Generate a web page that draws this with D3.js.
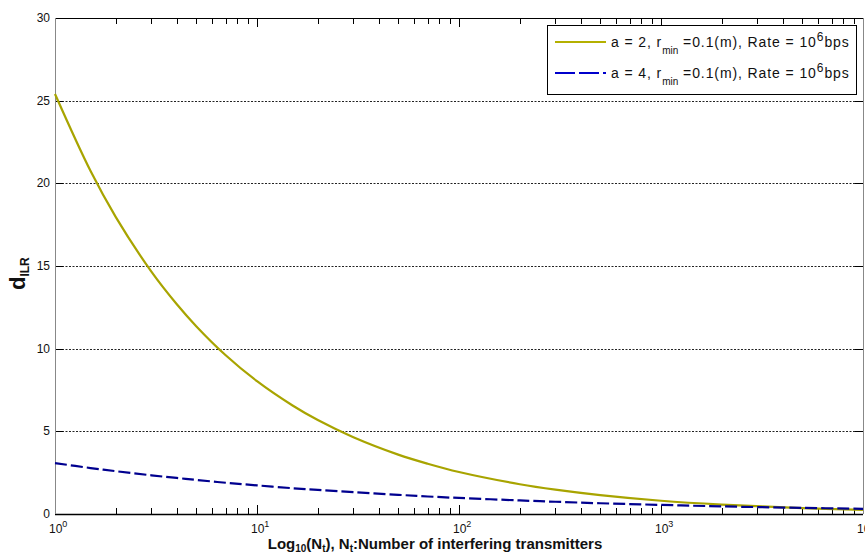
<!DOCTYPE html>
<html lang="en">
<head>
  <meta charset="UTF-8" />
  <title>d_ILR vs number of interfering transmitters</title>
  <script src="https://d3js.org/d3.v7.min.js"></script>
  <style>
    body {
      background-color: white;
      margin: 0;
      font-family: "Liberation Sans", Arial, sans-serif;
    }

    svg {
      display: block;
    }

    .grid line {
      stroke: #222;
      stroke-width: 1px;
      stroke-dasharray: 2,1.5;
    }

    .tick-label {
      font-size: 12px;
      fill: #111;
    }
  </style>
</head>
<body>
  <svg></svg>

  <script>
    // values
    const nt = [1, 1.5, 2, 3, 4, 5, 7, 10, 15, 20, 30, 50, 70, 100, 200, 300, 500, 1000, 2000, 5000, 10000];
    const dA2 = [25.4, 20.74, 17.96, 14.66, 12.7, 11.36, 9.6, 8.03, 6.56, 5.68, 4.64, 3.59, 3.04, 2.54, 1.8, 1.47, 1.14, 0.8, 0.57, 0.36, 0.25];
    const dA4 = [3.08, 2.78, 2.59, 2.34, 2.18, 2.06, 1.89, 1.73, 1.56, 1.46, 1.32, 1.16, 1.06, 0.97, 0.82, 0.74, 0.65, 0.55, 0.46, 0.37, 0.31];
    const yTicks = [0, 5, 10, 15, 20, 25, 30];
    const xDecades = [0, 1, 2, 3, 4];

    const width = 865;
    const height = 555;

    const svg = d3.select("svg")
      .attr("width", width)
      .attr("height", height);

    const x = d3.scaleLog().domain([1, 10000]).range([55, 863]);
    const y = d3.scaleLinear().domain([0, 30]).range([514, 18]);

    // horizontal dotted grid
    svg.append("g")
      .attr("class", "grid")
      .selectAll("line")
      .data(yTicks.filter(d => d > 0 && d < 30))
      .enter().append("line")
      .attr("x1", x(1)).attr("x2", x(10000))
      .attr("y1", d => Math.round(y(d)) + 0.5)
      .attr("y2", d => Math.round(y(d)) + 0.5);

    // minor + major x ticks, bottom (inward) and top (inward)
    const xTickVals = [];
    for (let e = 0; e < 4; e++) {
      for (let m = 1; m < 10; m++) xTickVals.push(m * Math.pow(10, e));
    }
    xTickVals.push(10000);

    const ticks = svg.append("g").attr("stroke", "#000").attr("stroke-width", 1);
    ticks.selectAll(".xb")
      .data(xTickVals)
      .enter().append("line")
      .attr("x1", d => Math.round(x(d)) + 0.5)
      .attr("x2", d => Math.round(x(d)) + 0.5)
      .attr("y1", y(0))
      .attr("y2", d => y(0) - (Number.isInteger(Math.log10(d)) ? 9 : 6));
    ticks.selectAll(".xt")
      .data(xTickVals)
      .enter().append("line")
      .attr("x1", d => Math.round(x(d)) + 0.5)
      .attr("x2", d => Math.round(x(d)) + 0.5)
      .attr("y1", y(30))
      .attr("y2", d => y(30) + (Number.isInteger(Math.log10(d)) ? 9 : 6));
    ticks.selectAll(".yl")
      .data(yTicks)
      .enter().append("line")
      .attr("x1", x(1))
      .attr("x2", x(1) + 8)
      .attr("y1", d => Math.round(y(d)) + 0.5)
      .attr("y2", d => Math.round(y(d)) + 0.5);
    ticks.selectAll(".yr")
      .data(yTicks)
      .enter().append("line")
      .attr("x1", x(10000))
      .attr("x2", x(10000) - 8)
      .attr("y1", d => Math.round(y(d)) + 0.5)
      .attr("y2", d => Math.round(y(d)) + 0.5);

    // frame
    svg.append("line")
      .attr("x1", x(1)).attr("x2", x(10000))
      .attr("y1", y(30) + 0.5).attr("y2", y(30) + 0.5)
      .attr("stroke", "#000");
    svg.append("line")
      .attr("x1", x(1)).attr("x2", x(10000))
      .attr("y1", y(0) + 0.5).attr("y2", y(0) + 0.5)
      .attr("stroke", "#000").attr("stroke-width", 1.5);
    svg.append("line")
      .attr("x1", x(1) + 0.5).attr("x2", x(1) + 0.5)
      .attr("y1", y(30)).attr("y2", y(0))
      .attr("stroke", "#888");
    svg.append("line")
      .attr("x1", x(10000) + 0.5).attr("x2", x(10000) + 0.5)
      .attr("y1", y(30)).attr("y2", y(0))
      .attr("stroke", "#888");

    // y tick labels
    svg.append("g")
      .selectAll("text")
      .data(yTicks)
      .enter().append("text")
      .attr("class", "tick-label")
      .attr("x", 50)
      .attr("y", d => y(d) + 4)
      .attr("text-anchor", "end")
      .text(d => d);

    // x tick labels 10^k (the last one runs off the right edge, as in the original)
    const xl = svg.append("g")
      .selectAll("text")
      .data(xDecades)
      .enter().append("text")
      .attr("class", "tick-label")
      .attr("x", d => x(Math.pow(10, d)) - 6)
      .attr("y", 533);
    xl.append("tspan").text("10");
    xl.append("tspan").attr("dy", -6).attr("font-size", 9).text(d => d);

    // curves
    const line = d3.line()
      .x(d => x(d[0]))
      .y(d => y(d[1]))
      .curve(d3.curveCatmullRom);

    svg.append("path")
      .datum(nt.map((n, i) => [n, dA2[i]]))
      .attr("fill", "none")
      .attr("stroke", "#a8a400")
      .attr("stroke-width", 2.2)
      .attr("d", line);

    svg.append("path")
      .datum(nt.map((n, i) => [n, dA4[i]]))
      .attr("fill", "none")
      .attr("stroke", "#00008f")
      .attr("stroke-width", 2.2)
      .attr("stroke-dasharray", "12,4")
      .attr("d", line);

    // legend
    const leg = svg.append("g");
    leg.append("rect")
      .attr("x", 547.5).attr("y", 25.5)
      .attr("width", 309).attr("height", 69)
      .attr("fill", "#fff").attr("stroke", "#000");

    const legItems = [
      { a: 2, color: "#b4b000", dash: null, ly: 42 },
      { a: 4, color: "#0000cc", dash: "20,4", ly: 73 }
    ];
    legItems.forEach(it => {
      leg.append("line")
        .attr("x1", 555).attr("x2", 606)
        .attr("y1", it.ly).attr("y2", it.ly)
        .attr("stroke", it.color)
        .attr("stroke-width", 2.2)
        .attr("stroke-dasharray", it.dash);
      const t = leg.append("text")
        .attr("x", 611).attr("y", it.ly + 5)
        .attr("font-size", 14)
        .attr("letter-spacing", 0.9)
        .attr("fill", "#111");
      t.append("tspan").text("a = " + it.a + ", r");
      t.append("tspan").attr("dy", 7).attr("font-size", 10).attr("letter-spacing", 0).text("min");
      t.append("tspan").attr("dy", -7).text(" =0.1(m), Rate = 10");
      t.append("tspan").attr("dy", -6).attr("font-size", 12).text("6");
      t.append("tspan").attr("dy", 6).text("bps");
    });

    // axis titles
    const xt = svg.append("text")
      .attr("x", 435).attr("y", 549)
      .attr("text-anchor", "middle")
      .attr("font-weight", "bold")
      .attr("font-size", 15)
      .attr("fill", "#111");
    xt.append("tspan").text("Log");
    xt.append("tspan").attr("dy", 3).attr("font-size", 10).text("10");
    xt.append("tspan").attr("dy", -3).text("(N");
    xt.append("tspan").attr("dy", 3).attr("font-size", 10).text("t");
    xt.append("tspan").attr("dy", -3).text("), N");
    xt.append("tspan").attr("dy", 3).attr("font-size", 10).text("t");
    xt.append("tspan").attr("dy", -3).text(":Number of interfering transmitters");

    const yt = svg.append("text")
      .attr("transform", "translate(25,290) rotate(-90)")
      .attr("font-weight", "bold")
      .attr("fill", "#111");
    yt.append("tspan").attr("font-size", 22).text("d");
    yt.append("tspan").attr("dy", 4).attr("font-size", 12).text("ILR");
  </script>
</body>
</html>
